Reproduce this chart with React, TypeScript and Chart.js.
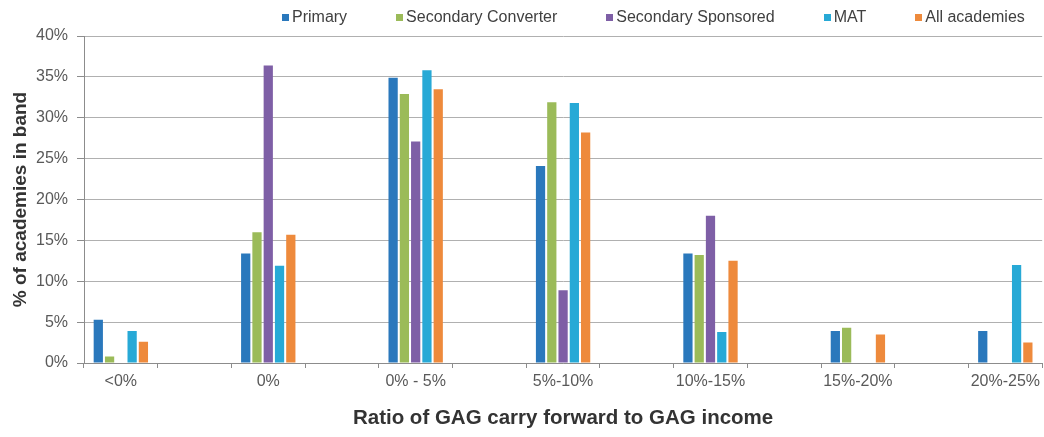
import { useEffect, useRef } from 'react';
import { Chart, registerables } from 'chart.js';

Chart.register(...registerables);

// Bands of GAG carry forward as a ratio of GAG income
const bands = ['<0%', '0%', '0% - 5%', '5%-10%', '10%-15%', '15%-20%', '20%-25%'];

// Share of academies (%) falling in each band, by academy type
const primary = [5.3, 13.4, 34.9, 24.1, 13.4, 3.9, 3.9];
const secondaryConverter = [0.8, 16.0, 32.9, 31.9, 13.2, 4.3, 0];
const secondarySponsored = [0, 36.4, 27.1, 8.9, 18.0, 0, 0];
const mat = [3.9, 11.9, 35.8, 31.8, 3.8, 0, 12.0];
const allAcademies = [2.6, 15.7, 33.5, 28.2, 12.5, 3.5, 2.5];

const seriesNames = ['Primary', 'Secondary Converter', 'Secondary Sponsored', 'MAT', 'All academies'];
const seriesValues = [primary, secondaryConverter, secondarySponsored, mat, allAcademies];
const seriesColors = ['#2A78BC', '#9BBB59', '#7E5FA6', '#27A9D6', '#EE8A3C'];

const yMax = 40;
const yStep = 5;

const FONT = "'Liberation Sans', Arial, sans-serif";

// Each band is followed by an empty slot so the groups sit apart on the axis
function withSpacers(values: any[], spacer: any) {
  const out: any[] = [];
  values.forEach((v, i) => {
    if (i > 0) out.push(spacer);
    out.push(v);
  });
  return out;
}

export default function App() {
  const canvasRef = useRef<HTMLCanvasElement | null>(null);

  useEffect(() => {
    const canvas = canvasRef.current;
    if (!canvas) return;
    const chart = new Chart(canvas, {
      type: 'bar',
      data: {
        labels: withSpacers(bands, ''),
        datasets: seriesValues.map((vals, i) => ({
          label: seriesNames[i],
          data: withSpacers(vals, null),
          backgroundColor: seriesColors[i],
          categoryPercentage: 0.765,
          barPercentage: 0.82,
        })),
      },
      options: {
        animation: false,
        responsive: true,
        maintainAspectRatio: false,
        layout: { padding: { top: 36, left: 0, right: 0, bottom: 0 } },
        plugins: {
          legend: { display: false },
          tooltip: { enabled: false },
        },
        scales: {
          x: {
            grid: {
              display: true,
              drawOnChartArea: false,
              drawTicks: true,
              tickLength: 5,
              tickColor: '#8C8C8C',
              offset: true,
            },
            border: { color: '#8C8C8C' },
            ticks: {
              autoSkip: false,
              maxRotation: 0,
              padding: 4,
              color: '#595959',
              font: { family: FONT, size: 16 },
            },
            title: {
              display: true,
              text: 'Ratio of GAG carry forward to GAG income',
              color: '#333333',
              font: { family: FONT, size: 20.5, weight: 'bold' },
              padding: { top: 0, bottom: 6 },
            },
            afterFit: (scale: any) => {
              scale.height = 74;
            },
          },
          y: {
            min: 0,
            max: yMax,
            ticks: {
              stepSize: yStep,
              callback: (v: any) => `${v}%`,
              padding: 9,
              color: '#595959',
              font: { family: FONT, size: 16 },
            },
            grid: { color: '#B0B0B0', tickLength: 7, tickColor: '#8C8C8C' },
            border: { color: '#8C8C8C' },
            title: {
              display: true,
              text: '% of academies in band',
              color: '#333333',
              font: { family: FONT, size: 19, weight: 'bold' },
              padding: { top: 9, bottom: 0 },
            },
            afterFit: (scale: any) => {
              scale.width = 84;
            },
          },
        },
      },
    });
    return () => chart.destroy();
  }, []);

  return (
    <div style={{ position: 'absolute', left: 0, top: 0, width: 1044, height: 437, background: '#fff' }}>
      <canvas ref={canvasRef} />
      <div
        style={{
          position: 'absolute',
          top: 7,
          left: 282,
          display: 'flex',
          alignItems: 'center',
          gap: 49,
          fontFamily: FONT,
          fontSize: 16,
          lineHeight: '20px',
          color: '#404040',
          whiteSpace: 'nowrap',
        }}
      >
        {seriesNames.map((name, i) => (
          <div key={name} style={{ display: 'flex', alignItems: 'center' }}>
            <span
              style={{
                display: 'inline-block',
                width: 7,
                height: 7,
                background: seriesColors[i],
                marginRight: 3,
              }}
            />
            <span>{name}</span>
          </div>
        ))}
      </div>
    </div>
  );
}
